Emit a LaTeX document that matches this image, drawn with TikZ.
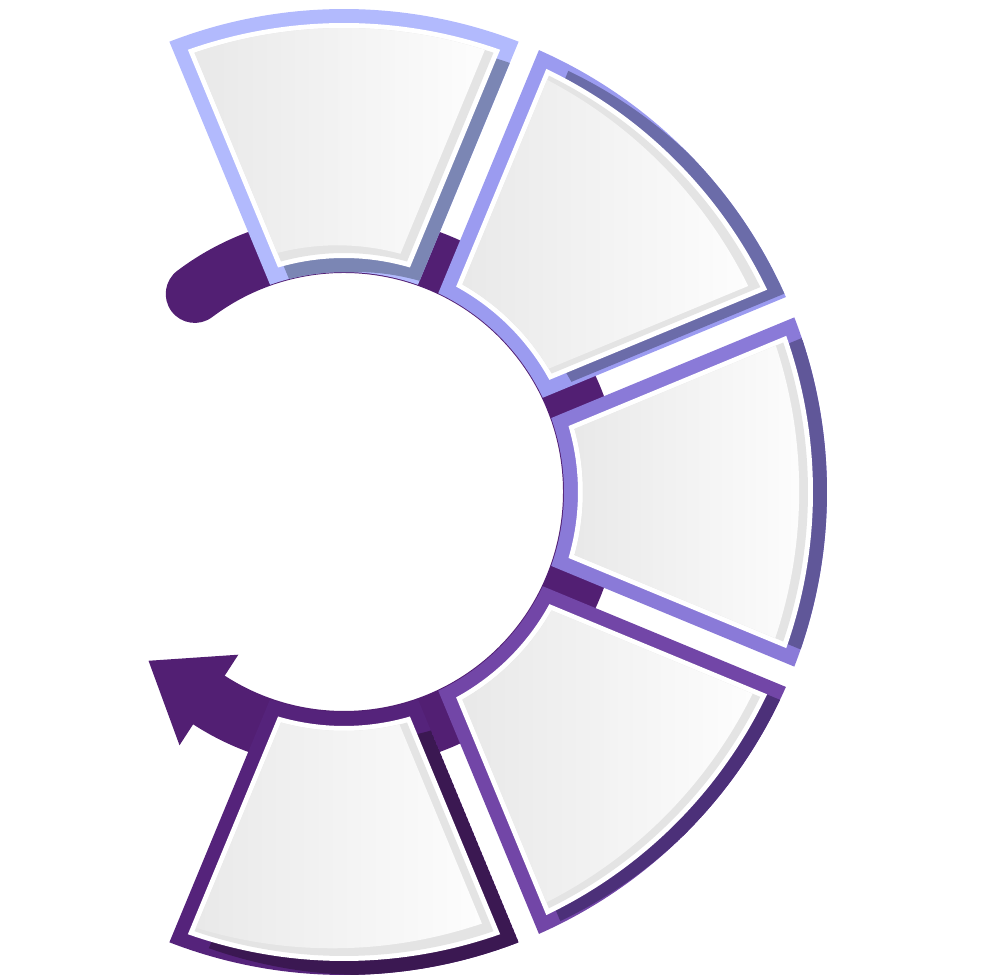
\documentclass[tikz,border=0pt]{standalone}
\usetikzlibrary{calc}
\definecolor{bA}{HTML}{B2BAFD}\definecolor{sA}{HTML}{7B86B4}
\definecolor{bB}{HTML}{9B9BF0}\definecolor{sB}{HTML}{6B6CA9}
\definecolor{bC}{HTML}{8A7AD8}\definecolor{sC}{HTML}{605799}
\definecolor{bD}{HTML}{7246A7}\definecolor{sD}{HTML}{4C3079}
\definecolor{bE}{HTML}{55237B}\definecolor{sE}{HTML}{3B1852}
\definecolor{ringcol}{HTML}{521F73}
\definecolor{bev}{HTML}{E4E4E4}
\definecolor{panA}{HTML}{E8E8E8}
\definecolor{panB}{HTML}{FDFDFD}
% #1 options, #2 mid angle, #3 inner r, #4 outer r, #5 half gap (pt)
\newcommand\mysec[5]{%
  \pgfmathsetmacro\aOa{#2+22.5-asin(#5/#4)}%
  \pgfmathsetmacro\aOb{#2-22.5+asin(#5/#4)}%
  \pgfmathsetmacro\aIa{#2+22.5-asin(#5/#3)}%
  \pgfmathsetmacro\aIb{#2-22.5+asin(#5/#3)}%
  \path[#1] (\aOa:#4pt) arc[start angle=\aOa, end angle=\aOb, radius=#4pt]
    -- (\aIb:#3pt) arc[start angle=\aIb, end angle=\aIa, radius=#3pt] -- cycle;}
% #1 mid angle, #2 border colour, #3 shadow colour, #4 sx, #5 sy
\newcommand\myseg[5]{%
  \mysec{fill=#2}{#1}{220}{483}{11}
  \begin{scope}
    \mysec{clip}{#1}{220}{483}{11}
    \mysec{fill=#3, shift={(#4pt,#5pt)}}{#1}{234}{469}{25}
  \end{scope}
  \mysec{fill=white}{#1}{234}{469}{25}
  \mysec{fill=bev}{#1}{239}{464}{30}
  \begin{scope}
    \mysec{clip}{#1}{239}{464}{30}
    \mysec{left color=panA, right color=panB, shift={({-0.55*(#4)*1pt},{-0.55*(#5)*1pt})}}{#1}{239}{464}{30}
  \end{scope}}
\tikzset{ringstyle/.style={draw=ringcol, line width=58pt, line cap=round}}
\begin{document}
\begin{tikzpicture}
\useasboundingbox (0pt,0pt) rectangle (980pt,980pt);
\coordinate (C) at (344pt,488pt);
\begin{scope}[shift={(C)}]
  % dark circular arrow behind the segments
  \coordinate (start) at (127:248pt);
  \coordinate (M) at (-123:248pt);
  \draw[ringstyle] (start) arc[start angle=127, end angle=-123, radius=248pt];
  \coordinate (tip) at ($(M)+(147:72pt)$);
  \coordinate (hout) at ($(M)+(-123:54pt)$);
  \coordinate (hin) at ($(M)+(57:54pt)$);
  \fill[ringcol] (tip) -- (hin) -- (hout) -- cycle;
  % segments
  \myseg{90}{bA}{sA}{12}{-14}
  \myseg{45}{bB}{sB}{22}{-2}
  \myseg{0}{bC}{sC}{16}{-2}
  \myseg{-45}{bD}{sD}{14}{-6}
  \myseg{-90}{bE}{sE}{21}{-14}
\end{scope}
\end{tikzpicture}
\end{document}
